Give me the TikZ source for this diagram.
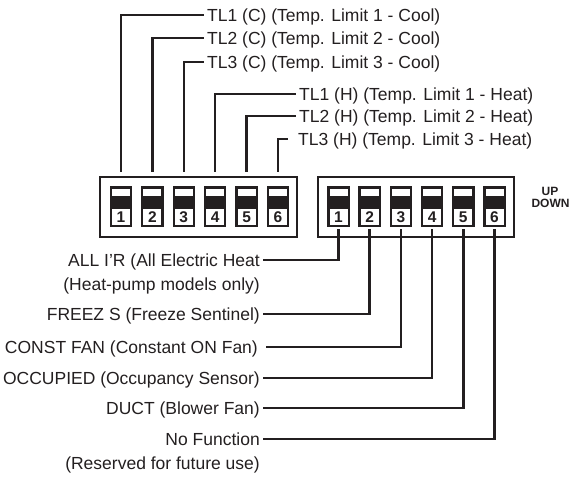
\documentclass[tikz,border=0pt]{standalone}
\usepackage{fontspec}
\setmainfont{Liberation Sans}
\definecolor{ink}{HTML}{231F20}
\begin{document}
\begin{tikzpicture}[x=1pt,y=-1pt,
  lbl/.style={font=\fontsize{17.5}{20}\selectfont, text=ink, inner ysep=0pt, inner xsep=3pt, text height=12.5pt, text depth=0pt},
  wire/.style={draw=ink, line width=2.5pt},
  frame/.style={draw=ink, line width=2.3pt},
  sw/.style={fill=ink, minimum width=22.5pt, minimum height=41pt, inner sep=0pt},
  num/.style={font=\fontsize{15.5}{15.5}\selectfont\bfseries, text=ink, inner sep=0pt, text height=11pt, text depth=0pt},
  ud/.style={font=\fontsize{12}{12}\selectfont\bfseries, text=ink, inner sep=0pt, text height=8.6pt, text depth=0pt}]
\useasboundingbox (0,0) rectangle (580,477);

% switch housings
\draw[frame] (100,177) rectangle (297,237);
\draw[frame] (318,177) rectangle (514,237);

% switches
\foreach \i in {1,...,6} {
  \pgfmathsetmacro\cx{121+31.4*(\i-1)}
  \node[sw] (L\i) at (\cx,206.5) {};
  \fill[white] (\cx-9,188.5) rectangle (\cx+9,196);
  \fill[white] (\cx-9,208.5) rectangle (\cx+9,225);
  \node[num] at (\cx,216.8) {\i};
}
\foreach \i in {1,...,6} {
  \pgfmathsetmacro\cx{338.5+31.2*(\i-1)}
  \node[sw] (R\i) at (\cx,206.5) {};
  \fill[white] (\cx-9,188.5) rectangle (\cx+9,196);
  \fill[white] (\cx-9,208.5) rectangle (\cx+9,225);
  \node[num] at (\cx,216.8) {\i};
}

\node[ud] (up) at (550,191) {UP};
\node[ud] (down) at (550.5,203.5) {DOWN};

% top labels
\node[lbl, anchor=west] (c1) at (204,15) {TL1 (C) (Temp. Limit 1 - Cool)};
\node[lbl, anchor=west] (c2) at (204,38) {TL2 (C) (Temp. Limit 2 - Cool)};
\node[lbl, anchor=west] (c3) at (204,62) {TL3 (C) (Temp. Limit 3 - Cool)};
\node[lbl, anchor=west] (h1) at (296,94) {TL1 (H) (Temp. Limit 1 - Heat)};
\node[lbl, anchor=west] (h2) at (296,116) {TL2 (H) (Temp. Limit 2 - Heat)};
\node[lbl, anchor=west, inner xsep=10pt] (h3) at (288,139) {TL3 (H) (Temp. Limit 3 - Heat)};

\draw[wire] ([yshift=14pt]L1.north) |- (c1.west);
\draw[wire] ([yshift=14pt]L2.north) |- (c2.west);
\draw[wire] ([yshift=14pt]L3.north) |- (c3.west);
\draw[wire] ([yshift=14pt]L4.north) |- (h1.west);
\draw[wire] ([yshift=14pt]L5.north) |- (h2.west);
\draw[wire] ([yshift=14pt]L6.north) |- (h3.west);

% bottom labels
\node[lbl, anchor=east] (b1) at (263,260) {ALL I'R (All Electric Heat};
\node[lbl, anchor=east] (b1x) at (263,284) {(Heat-pump models only)};
\node[lbl, anchor=east] (b2) at (263,314) {FREEZ S (Freeze Sentinel)};
\node[lbl, anchor=east, inner xsep=8pt] (b3) at (266,347) {CONST FAN (Constant ON Fan)};
\node[lbl, anchor=east] (b4) at (263,378) {OCCUPIED (Occupancy Sensor)};
\node[lbl, anchor=east] (b5) at (263,408) {DUCT (Blower Fan)};
\node[lbl, anchor=east] (b6) at (263,439) {No Function};
\node[lbl, anchor=east] (b6x) at (263,463) {(Reserved for future use)};

\draw[wire] ([yshift=-2pt]R1.south) |- (b1.east);
\draw[wire] ([yshift=-2pt]R2.south) |- (b2.east);
\draw[wire] ([yshift=-2pt]R3.south) |- (b3.east);
\draw[wire] ([yshift=-2pt]R4.south) |- (b4.east);
\draw[wire] ([yshift=-2pt]R5.south) |- (b5.east);
\draw[wire] ([yshift=-2pt]R6.south) |- (b6.east);
\end{tikzpicture}
\end{document}
